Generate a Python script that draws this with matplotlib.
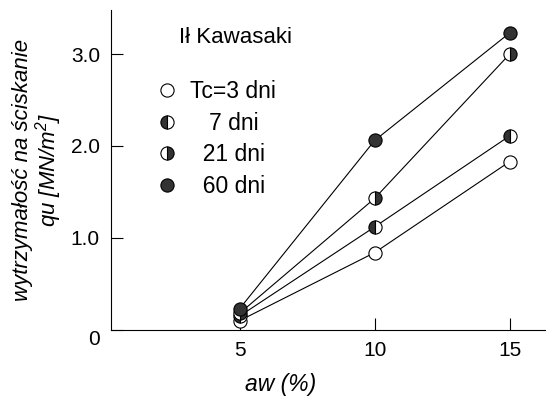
import matplotlib.pyplot as plt
import matplotlib.transforms as mtransforms
from matplotlib.lines import Line2D

plt.rcParams['font.family'] = ['Liberation Sans', 'DejaVu Sans']
plt.rcParams['mathtext.fontset'] = 'custom'
plt.rcParams['mathtext.it'] = 'Liberation Sans:italic'
plt.rcParams['mathtext.rm'] = 'Liberation Sans:italic'

aw = [5, 10, 15]
qu_3 = [0.10, 0.84, 1.83]
qu_7 = [0.15, 1.12, 2.11]
qu_21 = [0.18, 1.43, 3.00]
qu_60 = [0.23, 2.06, 3.23]
labels = ["Tc=3 dni", "   7 dni", "  21 dni", "  60 dni"]

dark = '#333333'
ms = 9.5
styles = [
    dict(marker='o', mfc='white', mec='black'),
    dict(marker='o', fillstyle='left', mfc=dark, mfcalt='white', mec='black'),
    dict(marker='o', fillstyle='right', mfc=dark, mfcalt='white', mec='black'),
    dict(marker='o', mfc=dark, mec='black'),
]

fig = plt.figure(figsize=(5.47, 3.96), dpi=100)
ax = fig.add_axes([0.203, 0.167, 0.793, 0.808])

for y, st in zip([qu_3, qu_7, qu_21, qu_60], styles):
    ax.plot(aw, y, color='black', lw=0.8, ms=ms, mew=0.8, zorder=3, **st)

handles = [Line2D([], [], linestyle='none', ms=ms, mew=0.8, **st) for st in styles]
leg = ax.legend(handles, labels, loc='upper left', bbox_to_anchor=(0.082, 0.81),
                frameon=False, fontsize=16.5, handletextpad=0.5, labelspacing=0.38,
                handlelength=1.0, borderaxespad=0)
ax.text(0.157, 0.948, "Ił Kawasaki", transform=ax.transAxes, fontsize=16,
        ha='left', va='top')

ax.set_xlim(0.24, 16.3)
ax.set_ylim(0, 3.48)
ax.set_xticks([5, 10, 15])
ax.set_yticks([0, 1, 2, 3])
ax.set_yticklabels(["0", "1.0", "2.0", "3.0"])
ax.tick_params(direction='in', length=8.5, width=0.8, labelsize=15)
ax.tick_params(axis='y', pad=8)
ax.tick_params(axis='x', pad=8)
for s in ['top', 'right']:
    ax.spines[s].set_visible(False)
for s in ['left', 'bottom']:
    ax.spines[s].set_linewidth(0.8)

# the "0" sits a little below the axis in the original
off = mtransforms.ScaledTranslation(0, -8 / 100, fig.dpi_scale_trans)
lbl0 = ax.get_yticklabels()[0]
lbl0.set_transform(lbl0.get_transform() + off)

ax.set_xlabel("aw (%)", fontsize=16.5, style='italic')
ax.xaxis.set_label_coords(0.39, -0.135)
ax.set_ylabel("wytrzymałość na ściskanie\nqu [MN/m$^2$]", fontsize=16,
              style='italic', labelpad=5, linespacing=1.0)

fig.savefig("out.png", dpi=100)
